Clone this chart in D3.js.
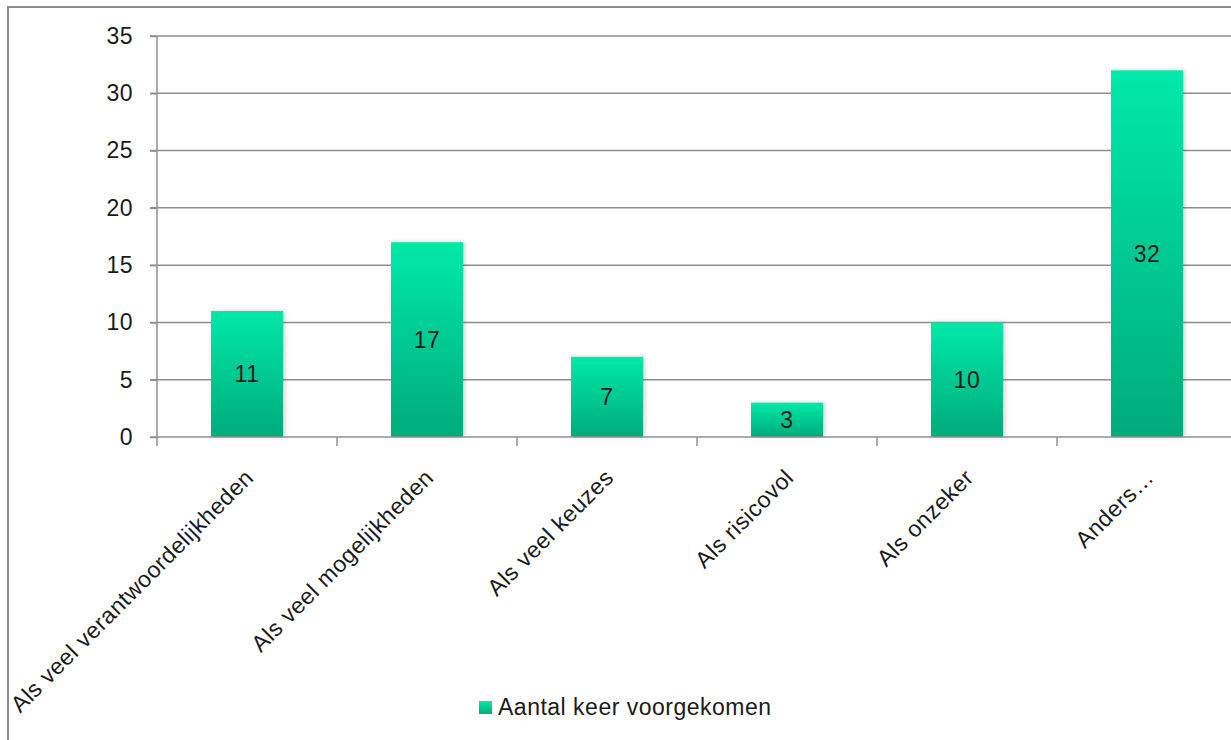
<!DOCTYPE html>
<html>
<head>
<meta charset="utf-8">
<script src="https://cdn.jsdelivr.net/npm/d3@7"></script>
<style>
  html, body { margin: 0; padding: 0; background: #fff; }
  svg { display: block; }
  text { font-family: "Liberation Sans", Arial, sans-serif; fill: #1a1a1a; letter-spacing: 0.5px; }
</style>
</head>
<body>
<svg id="chart" width="1231" height="740"></svg>
<script>
// Data
const categories = [
  "Als veel verantwoordelijkheden",
  "Als veel mogelijkheden",
  "Als veel keuzes",
  "Als risicovol",
  "Als onzeker",
  "Anders…"
];
const values = [11, 17, 7, 3, 10, 32];
const yTicks = [0, 5, 10, 15, 20, 25, 30, 35];
const seriesName = "Aantal keer voorgekomen";

const svg = d3.select("#chart");
const W = 1231, H = 740;
const FS = 23;

// Gradient for bars
const defs = svg.append("defs");
const grad = defs.append("linearGradient")
  .attr("id", "barGrad").attr("x1", 0).attr("y1", 0).attr("x2", 0).attr("y2", 1);
grad.append("stop").attr("offset", "0%").attr("stop-color", "#00e9a8");
grad.append("stop").attr("offset", "100%").attr("stop-color", "#00ab7b");

const shadow = defs.append("filter").attr("id", "barShadow")
  .attr("x", "-20%").attr("y", "-5%").attr("width", "140%").attr("height", "110%");
shadow.append("feDropShadow").attr("dx", 2).attr("dy", 0).attr("stdDeviation", 2)
  .attr("flood-color", "#000").attr("flood-opacity", 0.18);

// Outer frame
svg.append("rect")
  .attr("x", 8).attr("y", 7).attr("width", W + 20).attr("height", H + 20)
  .attr("fill", "none").attr("stroke", "#8c8c8c").attr("stroke-width", 2);

// Scales
const plotLeft = 157, plotRight = 1237, plotTop = 36, plotBottom = 437;
const x = d3.scaleBand().domain(categories).range([plotLeft, plotRight]).paddingInner(0.6).paddingOuter(0.3);
const xOuter = d3.scaleBand().domain(categories).range([plotLeft, plotRight]);
const y = d3.scaleLinear().domain([0, 35]).range([plotBottom, plotTop]);

// Gridlines
svg.append("g").selectAll("line").data(yTicks.filter(d => d > 0)).join("line")
  .attr("x1", plotLeft - 7).attr("x2", W)
  .attr("y1", d => y(d)).attr("y2", d => y(d))
  .attr("stroke", "#8f8f8f").attr("stroke-width", 1.5);

// Y axis
const yAxis = svg.append("g").attr("transform", `translate(${plotLeft},0)`)
  .call(d3.axisLeft(y).tickValues(yTicks).tickSize(7).tickPadding(17));
yAxis.select(".domain").attr("stroke", "#8f8f8f").attr("stroke-width", 1.5)
  .attr("d", `M0,${plotTop}V${plotBottom}`);
yAxis.selectAll(".tick line").attr("stroke", "#8f8f8f").attr("stroke-width", 1.5);
yAxis.selectAll(".tick text")
  .style("font-family", "'Liberation Sans', Arial, sans-serif")
  .attr("font-size", FS).attr("fill", "#1a1a1a");

// Bars
svg.append("g").selectAll("rect").data(values).join("rect")
  .attr("x", (d, i) => x(categories[i]))
  .attr("width", x.bandwidth())
  .attr("y", d => y(d))
  .attr("height", d => y(0) - y(d))
  .attr("fill", "url(#barGrad)")
  .attr("filter", "url(#barShadow)");

// X axis line and category boundary ticks
svg.append("line")
  .attr("x1", plotLeft - 7).attr("x2", W).attr("y1", plotBottom).attr("y2", plotBottom)
  .attr("stroke", "#8f8f8f").attr("stroke-width", 1.5);
svg.append("g").selectAll("line").data(categories).join("line")
  .attr("x1", d => xOuter(d)).attr("x2", d => xOuter(d))
  .attr("y1", plotBottom).attr("y2", plotBottom + 9)
  .attr("stroke", "#8f8f8f").attr("stroke-width", 1.5);

// Value labels in bar middle
svg.append("g").selectAll("text").data(values).join("text")
  .attr("x", (d, i) => x(categories[i]) + x.bandwidth() / 2)
  .attr("y", d => (y(d) + y(0)) / 2)
  .attr("dy", "0.36em")
  .attr("text-anchor", "middle")
  .attr("font-size", FS)
  .text(d => d);

// Rotated category labels
svg.append("g").selectAll("text").data(categories).join("text")
  .attr("transform", d => `translate(${x(d) + x.bandwidth() / 2 + 8},${plotBottom + 42}) rotate(-45)`)
  .attr("text-anchor", "end")
  .attr("font-size", FS)
  .text(d => d);

// Legend
const lg = svg.append("g").attr("transform", "translate(479,701)");
lg.append("rect").attr("width", 13).attr("height", 13).attr("fill", "url(#barGrad)");
lg.append("text").attr("x", 19).attr("y", 14).attr("font-size", FS).text(seriesName);
</script>
</body>
</html>
